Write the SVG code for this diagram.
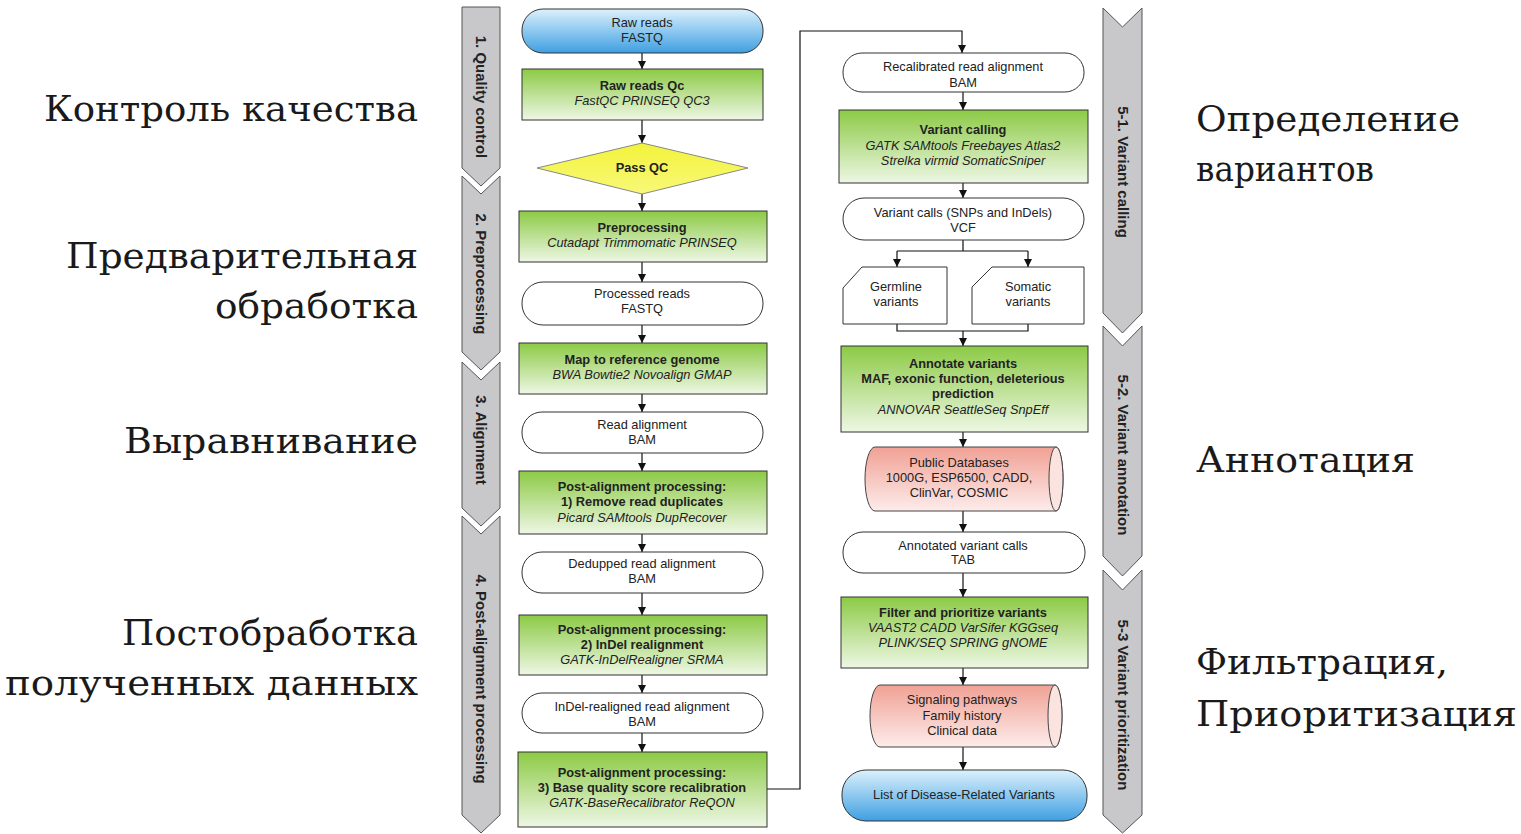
<svg xmlns="http://www.w3.org/2000/svg" width="1521" height="834" viewBox="0 0 1521 834">
<defs>
<linearGradient id="gGreen" x1="0" y1="0" x2="0" y2="1"><stop offset="0" stop-color="#8cca45"/><stop offset="1" stop-color="#eef7e5"/></linearGradient>
<linearGradient id="gBlue" x1="0" y1="0" x2="0" y2="1"><stop offset="0" stop-color="#dcf1fc"/><stop offset="1" stop-color="#3f9fe2"/></linearGradient>
<linearGradient id="gYellow" x1="0" y1="0" x2="0" y2="1"><stop offset="0" stop-color="#f3f33a"/><stop offset="1" stop-color="#f8f87a"/></linearGradient>
<linearGradient id="gPink" x1="0" y1="0" x2="0" y2="1"><stop offset="0" stop-color="#f0a194"/><stop offset="1" stop-color="#fdeceb"/></linearGradient>
<marker id="ah" viewBox="0 0 10 10" refX="10" refY="5" markerWidth="8" markerHeight="8" markerUnits="userSpaceOnUse" orient="auto"><path d="M0,0 L10,5 L0,10 z" fill="#111"/></marker>
</defs>
<style>
.ru{font-family:"DejaVu Serif","Liberation Serif",serif;font-size:36px;fill:#1a1a1a}
.t{font-family:"Liberation Sans",Arial,sans-serif;font-size:12.8px;fill:#222;text-anchor:middle}
.b{font-weight:bold}
.i{font-style:italic}
.chev{fill:#c8c8ca;stroke:#555;stroke-width:1}
.ct{font-family:"Liberation Sans",Arial,sans-serif;font-size:15px;font-weight:bold;fill:#222;text-anchor:middle}
.proc{fill:url(#gGreen);stroke:#333;stroke-width:1}
.data{fill:#fff;stroke:#333;stroke-width:1}
.term{fill:url(#gBlue);stroke:#333;stroke-width:1}
.db{fill:url(#gPink);stroke:#444;stroke-width:1}
.conn path{fill:none;stroke:#111;stroke-width:1.2}
</style>
<rect width="1521" height="834" fill="#fff"/>

<!-- Russian labels -->
<g id="labels-left">
<text class="ru" x="418" y="121" text-anchor="end" textLength="374" lengthAdjust="spacingAndGlyphs">Контроль качества</text>
<text class="ru" x="418" y="268" text-anchor="end" textLength="352" lengthAdjust="spacingAndGlyphs">Предварительная</text>
<text class="ru" x="418" y="318" text-anchor="end" textLength="203" lengthAdjust="spacingAndGlyphs">обработка</text>
<text class="ru" x="418" y="453" text-anchor="end" textLength="294" lengthAdjust="spacingAndGlyphs">Выравнивание</text>
<text class="ru" x="418" y="645" text-anchor="end" textLength="296" lengthAdjust="spacingAndGlyphs">Постобработка</text>
<text class="ru" x="418" y="695" text-anchor="end" textLength="413" lengthAdjust="spacingAndGlyphs">полученных данных</text>
</g>
<g id="labels-right">
<text class="ru" x="1196" y="131" textLength="264" lengthAdjust="spacingAndGlyphs">Определение</text>
<text class="ru" x="1196" y="181" textLength="178" lengthAdjust="spacingAndGlyphs">вариантов</text>
<text class="ru" x="1196" y="472" textLength="219" lengthAdjust="spacingAndGlyphs">Аннотация</text>
<text class="ru" x="1196" y="674" textLength="252" lengthAdjust="spacingAndGlyphs">Фильтрация,</text>
<text class="ru" x="1196" y="726" textLength="321" lengthAdjust="spacingAndGlyphs">Приоритизация</text>
</g>

<!-- stage chevrons -->
<g id="stage1"><polygon class="chev" points="462,7 500,7 500,168 481,186 462,168"/><text class="ct" transform="translate(481,97) rotate(90)" dy="5">1. Quality control</text></g>
<g id="stage2"><polygon class="chev" points="462,176 481,194 500,176 500,352 481,370 462,352"/><text class="ct" transform="translate(481,274) rotate(90)" dy="5">2. Preprocessing</text></g>
<g id="stage3"><polygon class="chev" points="462,362 481,380 500,362 500,508 481,526 462,508"/><text class="ct" transform="translate(481,440) rotate(90)" dy="5">3. Alignment</text></g>
<g id="stage4"><polygon class="chev" points="462,516 481,534 500,516 500,815 481,833 462,815"/><text class="ct" transform="translate(481,679) rotate(90)" dy="5">4. Post-alignment processing</text></g>
<g id="stage51"><polygon class="chev" points="1103,8 1122.5,27 1142,8 1142,313 1122.5,333 1103,313"/><text class="ct" transform="translate(1122.5,172) rotate(90)" dy="5">5-1. Variant calling</text></g>
<g id="stage52"><polygon class="chev" points="1103,326 1122.5,346 1142,326 1142,556 1122.5,576 1103,556"/><text class="ct" transform="translate(1122.5,455) rotate(90)" dy="5">5-2. Variant annotation</text></g>
<g id="stage53"><polygon class="chev" points="1103,570 1122.5,590 1142,570 1142,815 1122.5,833 1103,815"/><text class="ct" transform="translate(1122.5,705) rotate(90)" dy="5">5-3 Variant prioritization</text></g>

<!-- connectors -->
<g id="connectors" class="conn">
<path d="M642,53 V69" marker-end="url(#ah)"/>
<path d="M642,120 V143" marker-end="url(#ah)"/>
<path d="M642,194 V211" marker-end="url(#ah)"/>
<path d="M642,262 V282" marker-end="url(#ah)"/>
<path d="M642,325 V343" marker-end="url(#ah)"/>
<path d="M642,394 V412" marker-end="url(#ah)"/>
<path d="M642,453 V471" marker-end="url(#ah)"/>
<path d="M642,534 V552" marker-end="url(#ah)"/>
<path d="M642,593 V615" marker-end="url(#ah)"/>
<path d="M642,675 V693" marker-end="url(#ah)"/>
<path d="M642,733 V752" marker-end="url(#ah)"/>
<path d="M767,789 H800 V31 H962 V53" marker-end="url(#ah)"/>
<path d="M963,92 V110" marker-end="url(#ah)"/>
<path d="M963,183 V198" marker-end="url(#ah)"/>
<path d="M963,240 V251 M897,251 H1028"/>
<path d="M897,251 V267" marker-end="url(#ah)"/>
<path d="M1028,251 V267" marker-end="url(#ah)"/>
<path d="M897,324 V331 H1028 V324"/>
<path d="M963,331 V346" marker-end="url(#ah)"/>
<path d="M963,432 V447" marker-end="url(#ah)"/>
<path d="M963,511 V532" marker-end="url(#ah)"/>
<path d="M963,573 V597" marker-end="url(#ah)"/>
<path d="M963,668 V685" marker-end="url(#ah)"/>
<path d="M963,747 V770" marker-end="url(#ah)"/>
</g>

<!-- left column nodes -->
<g id="raw-reads"><rect class="term" x="522" y="9" width="241" height="44" rx="21"/><text class="t" x="642" y="27">Raw reads</text><text class="t" x="642" y="42">FASTQ</text></g>
<g id="raw-qc"><rect class="proc" x="522" y="69" width="241" height="51"/><text class="t b" x="642" y="90">Raw reads Qc</text><text class="t i" x="642" y="105">FastQC PRINSEQ QC3</text></g>
<g id="pass-qc"><polygon points="642,143 748,168 642,194 537,168" fill="url(#gYellow)" stroke="#888" stroke-width="1"/><text class="t b" x="642" y="172">Pass QC</text></g>
<g id="preprocessing"><rect class="proc" x="519" y="211" width="248" height="51"/><text class="t b" x="642" y="232">Preprocessing</text><text class="t i" x="642" y="247">Cutadapt Trimmomatic PRINSEQ</text></g>
<g id="processed-reads"><rect class="data" x="522" y="282" width="241" height="43" rx="21"/><text class="t" x="642" y="298">Processed reads</text><text class="t" x="642" y="313">FASTQ</text></g>
<g id="map"><rect class="proc" x="519" y="343" width="248" height="51"/><text class="t b" x="642" y="364">Map to reference genome</text><text class="t i" x="642" y="379">BWA Bowtie2 Novoalign GMAP</text></g>
<g id="read-alignment"><rect class="data" x="522" y="412" width="241" height="41" rx="20"/><text class="t" x="642" y="429">Read alignment</text><text class="t" x="642" y="444">BAM</text></g>
<g id="post1"><rect class="proc" x="519" y="471" width="248" height="63"/><text class="t b" x="642" y="491">Post-alignment processing:</text><text class="t b" x="642" y="506">1) Remove read duplicates</text><text class="t i" x="642" y="522">Picard SAMtools DupRecover</text></g>
<g id="dedupped"><rect class="data" x="522" y="552" width="241" height="41" rx="20"/><text class="t" x="642" y="568">Dedupped read alignment</text><text class="t" x="642" y="583">BAM</text></g>
<g id="post2"><rect class="proc" x="519" y="615" width="248" height="60"/><text class="t b" x="642" y="634">Post-alignment processing:</text><text class="t b" x="642" y="649">2) InDel realignment</text><text class="t i" x="642" y="664">GATK-InDelRealigner SRMA</text></g>
<g id="indel-realigned"><rect class="data" x="522" y="693" width="241" height="40" rx="20"/><text class="t" x="642" y="711">InDel-realigned read alignment</text><text class="t" x="642" y="726">BAM</text></g>
<g id="post3"><rect class="proc" x="518" y="752" width="249" height="75"/><text class="t b" x="642" y="777">Post-alignment processing:</text><text class="t b" x="642" y="792">3) Base quality score recalibration</text><text class="t i" x="642" y="807">GATK-BaseRecalibrator ReQON</text></g>

<!-- right column nodes -->
<g id="recalibrated"><rect class="data" x="843" y="53" width="241" height="39" rx="19"/><text class="t" x="963" y="71">Recalibrated read alignment</text><text class="t" x="963" y="87">BAM</text></g>
<g id="variant-calling"><rect class="proc" x="839" y="110" width="249" height="73"/><text class="t b" x="963" y="134">Variant calling</text><text class="t i" x="963" y="150">GATK SAMtools Freebayes Atlas2</text><text class="t i" x="963" y="165">Strelka virmid SomaticSniper</text></g>
<g id="vcf"><rect class="data" x="843" y="198" width="241" height="42" rx="21"/><text class="t" x="963" y="217">Variant calls (SNPs and InDels)</text><text class="t" x="963" y="232">VCF</text></g>
<g id="germline"><polygon class="data" points="843,288 862,267 947,267 947,324 843,324"/><text class="t" x="896" y="291">Germline</text><text class="t" x="896" y="306">variants</text></g>
<g id="somatic"><polygon class="data" points="972,287 992,267 1084,267 1084,324 972,324"/><text class="t" x="1028" y="291">Somatic</text><text class="t" x="1028" y="306">variants</text></g>
<g id="annotate"><rect class="proc" x="841" y="346" width="247" height="86"/><text class="t b" x="963" y="368">Annotate variants</text><text class="t b" x="963" y="383">MAF, exonic function, deleterious</text><text class="t b" x="963" y="398">prediction</text><text class="t i" x="963" y="414">ANNOVAR SeattleSeq SnpEff</text></g>
<g id="public-db"><path class="db" d="M875,447 H1056 A7,32 0 0 1 1056,511 H875 A10,32 0 0 1 875,447 Z"/><ellipse cx="1056" cy="479" rx="7" ry="32" fill="#fbe3e0" stroke="#444" stroke-width="1"/><text class="t" x="959" y="467">Public Databases</text><text class="t" x="959" y="482">1000G, ESP6500, CADD,</text><text class="t" x="959" y="497">ClinVar, COSMIC</text></g>
<g id="annotated-calls"><rect class="data" x="843" y="532" width="242" height="41" rx="20"/><text class="t" x="963" y="550">Annotated variant calls</text><text class="t" x="963" y="564">TAB</text></g>
<g id="filter"><rect class="proc" x="841" y="597" width="247" height="71"/><text class="t b" x="963" y="617">Filter and prioritize variants</text><text class="t i" x="963" y="632">VAAST2 CADD VarSifer KGGseq</text><text class="t i" x="963" y="647">PLINK/SEQ SPRING gNOME</text></g>
<g id="signaling"><path class="db" d="M880,685 H1055 A7,31 0 0 1 1055,747 H880 A10,31 0 0 1 880,685 Z"/><ellipse cx="1055" cy="716" rx="7" ry="31" fill="#fbe3e0" stroke="#444" stroke-width="1"/><text class="t" x="962" y="704">Signaling pathways</text><text class="t" x="962" y="720">Family history</text><text class="t" x="962" y="735">Clinical data</text></g>
<g id="disease-list"><rect class="term" x="842" y="770" width="245" height="51" rx="24"/><text class="t" x="964" y="799">List of Disease-Related Variants</text></g>
</svg>
